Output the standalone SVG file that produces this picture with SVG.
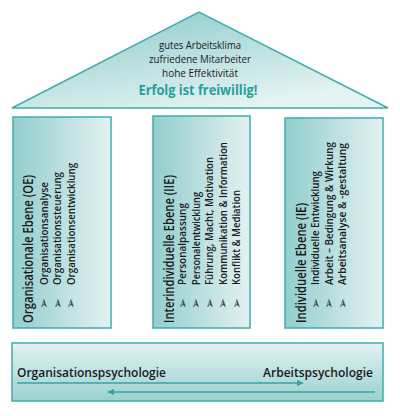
<svg xmlns="http://www.w3.org/2000/svg" width="400" height="416" viewBox="0 0 400 416">
<defs>
<linearGradient id="gRoof" x1="0" y1="0" x2="0.6" y2="1">
<stop offset="0" stop-color="#86c9c9"/>
<stop offset="1" stop-color="#e6f3f3"/>
</linearGradient>
<linearGradient id="gPillar" x1="0" y1="0" x2="1" y2="0">
<stop offset="0" stop-color="#93cece"/>
<stop offset="1" stop-color="#e3f1f1"/>
</linearGradient>
<linearGradient id="gBase" x1="0" y1="0" x2="0" y2="1">
<stop offset="0" stop-color="#e2f2f2"/>
<stop offset="1" stop-color="#9bd1d0"/>
</linearGradient>
<marker id="ah" viewBox="0 0 10 10" refX="9" refY="5" markerWidth="7" markerHeight="7" markerUnits="userSpaceOnUse" orient="auto">
<path d="M0,0 L10,5 L0,10 z" fill="#36a6a4"/>
</marker>
<style>
.box{stroke:#3eaeac;stroke-width:1.5}
.t{font-family:"Open Sans","DejaVu Sans",sans-serif;fill:#1a1a1a;font-weight:600}
.title{font-size:14px}
.item{font-size:10.5px}
.bul{font-family:"DejaVu Sans",sans-serif;font-size:13px;font-weight:bold;fill:#3a3a3a}
.roof{font-size:11px;text-anchor:middle;font-weight:500}
.big{font-size:14px;font-weight:bold;fill:#2a9e9c;text-anchor:middle}
.conn{stroke:#36a6a4;stroke-width:1.5;fill:none}
</style>
</defs>

<g id="roof">
<polygon class="box" points="12,108 199,12 388,108" fill="url(#gRoof)"/>
<text class="t roof" x="200" y="49" textLength="82" lengthAdjust="spacingAndGlyphs">gutes Arbeitsklima</text>
<text class="t roof" x="200" y="63" textLength="102" lengthAdjust="spacingAndGlyphs">zufriedene Mitarbeiter</text>
<text class="t roof" x="200" y="77" textLength="76" lengthAdjust="spacingAndGlyphs">hohe Effektivität</text>
<text class="t big" x="198" y="95" textLength="119" lengthAdjust="spacingAndGlyphs">Erfolg ist freiwillig!</text>
</g>

<g id="pillar-oe">
<rect class="box" x="13" y="117" width="98" height="211" fill="url(#gPillar)"/>
<text class="t title" transform="translate(33,323) rotate(-90)" textLength="148" lengthAdjust="spacingAndGlyphs">Organisationale Ebene (OE)</text>
<text class="t item" transform="translate(47.5,285) rotate(-90)" textLength="103" lengthAdjust="spacingAndGlyphs">Organisationsanalyse</text>
<text class="t item" transform="translate(61,285) rotate(-90)" textLength="113" lengthAdjust="spacingAndGlyphs">Organisationssteuerung</text>
<text class="t item" transform="translate(74.5,285) rotate(-90)" textLength="122" lengthAdjust="spacingAndGlyphs">Organisationsentwicklung</text>
<text class="bul" transform="translate(48,309) rotate(-90)">➢</text>
<text class="bul" transform="translate(61.5,309) rotate(-90)">➢</text>
<text class="bul" transform="translate(75,309) rotate(-90)">➢</text>
</g>

<g id="pillar-iie">
<rect class="box" x="153" y="116" width="97" height="212" fill="url(#gPillar)"/>
<text class="t title" transform="translate(174,323) rotate(-90)" textLength="148" lengthAdjust="spacingAndGlyphs">Interindividuelle Ebene (IIE)</text>
<text class="t item" transform="translate(186,285) rotate(-90)" textLength="82" lengthAdjust="spacingAndGlyphs">Personalpassung</text>
<text class="t item" transform="translate(199.5,285) rotate(-90)" textLength="93" lengthAdjust="spacingAndGlyphs">Personalentwicklung</text>
<text class="t item" transform="translate(213,285) rotate(-90)" textLength="128" lengthAdjust="spacingAndGlyphs">Führung, Macht, Motivation</text>
<text class="t item" transform="translate(226.5,285) rotate(-90)" textLength="143" lengthAdjust="spacingAndGlyphs">Kommunikation &amp; Information</text>
<text class="t item" transform="translate(240,285) rotate(-90)" textLength="95" lengthAdjust="spacingAndGlyphs">Konflikt &amp; Mediation</text>
<text class="bul" transform="translate(186.5,309) rotate(-90)">➢</text>
<text class="bul" transform="translate(200,309) rotate(-90)">➢</text>
<text class="bul" transform="translate(213.5,309) rotate(-90)">➢</text>
<text class="bul" transform="translate(227,309) rotate(-90)">➢</text>
<text class="bul" transform="translate(240.5,309) rotate(-90)">➢</text>
</g>

<g id="pillar-ie">
<rect class="box" x="285" y="118" width="98" height="210" fill="url(#gPillar)"/>
<text class="t title" transform="translate(306,323) rotate(-90)" textLength="120" lengthAdjust="spacingAndGlyphs">Individuelle Ebene (IE)</text>
<text class="t item" transform="translate(319,285) rotate(-90)" textLength="114" lengthAdjust="spacingAndGlyphs">Individuelle Entwicklung</text>
<text class="t item" transform="translate(332.5,285) rotate(-90)" textLength="143" lengthAdjust="spacingAndGlyphs">Arbeit – Bedingung &amp; Wirkung</text>
<text class="t item" transform="translate(346,285) rotate(-90)" textLength="142" lengthAdjust="spacingAndGlyphs">Arbeitsanalyse &amp; -gestaltung</text>
<text class="bul" transform="translate(319.5,309) rotate(-90)">➢</text>
<text class="bul" transform="translate(333,309) rotate(-90)">➢</text>
<text class="bul" transform="translate(346.5,309) rotate(-90)">➢</text>
</g>

<g id="foundation">
<rect class="box" x="12" y="343" width="371" height="58" fill="url(#gBase)"/>
<text class="t" x="17" y="377" font-size="12.5" textLength="149" lengthAdjust="spacingAndGlyphs">Organisationspsychologie</text>
<text class="t" x="373" y="377" font-size="12.5" text-anchor="end" textLength="110" lengthAdjust="spacingAndGlyphs">Arbeitspsychologie</text>
</g>

<g id="connectors">
<line class="conn" x1="17" y1="383" x2="303" y2="383" marker-end="url(#ah)"/>
<line class="conn" x1="375" y1="392" x2="108" y2="392" marker-end="url(#ah)"/>
</g>
</svg>
